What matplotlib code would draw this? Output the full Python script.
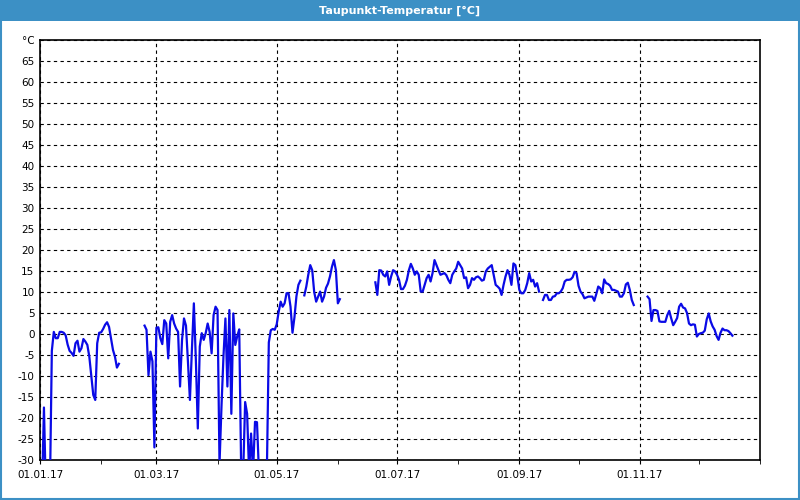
import numpy as np
import pandas as pd
import matplotlib
matplotlib.use("Agg")
import matplotlib.pyplot as plt
import matplotlib.dates as mdates
from matplotlib.patches import Rectangle

# daily dew point values (°C), one list per unbroken stretch of the record
seg_a_start = "2017-01-01"
seg_a = [-38, -38, -17.5, -38, -38, -38, -4, 0.5, -1, -1,
         0.5, 0.5, 0.3, -0.3, -2.5, -4, -4.5, -5.2, -2.2, -1.6,
         -4.2, -3.4, -1.2, -1.8, -2.6, -5.4, -10, -14.5, -15.7, -2.2,
         0.3, 0.4, 1.2, 2.2, 2.8, 1.7, -1, -3.8, -5.4, -8, -7.1]

seg_b_start = "2017-02-23"
seg_b = [2.0, 1.0, -9.8, -4.2, -6.5, -27.0, 1.5, 1.6, -1.0, -2.4,
         3.3, 2.5, -5.8, 2.9, 4.5, 2.5, 1.3, 0.5, -12.5, -1.4,
         3.7, 2.0, -6.6, -15.7, -3.8, 7.3, -6.0, -22.5, -3.0, 0.2,
         -1.4, 0.2, 2.5, 0.5, -4.6, 4.5, 6.5, 5.7, -31.0, -17.3,
         -5.4, 3.7, -12.5, 5.7, -19.0, 4.9, -2.6, -0.5, 1.1, -33,
         -33, -16.2, -19.0, -33, -23.7, -33, -20.9, -21.0, -33, -33,
         -33, -33, -33, -2.0, 0.9, 1.2, 1.0, 2.3, 5.3, 7.7,
         6.5, 7.3, 9.7, 9.7, 6.5, 0.3, 4.0, 9.0, 11.7, 12.7,
         np.nan, 9.2, 11.3, 14.1, 16.4, 15.2, 10.0, 7.7, 8.9, 10.1,
         7.7, 8.9, 11.0, 12.0, 13.7, 16.0, 17.6, 15.2, 7.3, 8.3]

seg_c_start = "2017-06-20"
seg_c = [12.3, 9.3, 15.2, 15.1, 14.1, 13.7, 14.9, 11.7, 13.7, 15.2,
         14.9, 14.1, 12.9, 10.7, 10.7, 11.5, 12.9, 15.2, 16.7, 15.6,
         14.1, 14.9, 14.1, 10.1, 10.1, 11.7, 13.3, 14.1, 12.5, 14.5,
         17.6, 16.4, 15.2, 14.1, 14.3, 14.5, 14.0, 12.9, 12.1, 14.1,
         14.9, 15.6, 17.2, 16.4, 15.6, 13.3, 13.5, 10.9, 11.7, 13.3,
         12.9, 13.5, 13.7, 13.3, 12.7, 12.9, 14.9, 15.6, 16.0, 16.4,
         14.1, 11.7, 11.3, 10.8, 9.3, 11.7, 13.7, 15.2, 14.1, 11.7,
         16.8, 16.4, 13.7, 10.5, 9.7, 9.7, 10.5, 12.1, 14.5, 12.5,
         12.9, 11.3, 12.1, 10.1]

seg_d_start = "2017-09-13"
seg_d = [8.1, 9.3, 9.3, 8.1, 8.1, 8.9, 9.0, 9.7, 9.7, 10.1,
         10.9, 12.5, 12.9, 12.9, 13.0, 13.5, 14.8, 14.5, 11.5, 10.1,
         9.5, 8.5, 8.7, 8.9, 8.9, 8.9, 7.9, 9.5, 11.3, 10.9,
         9.7, 13.0, 12.1, 11.9, 11.5, 10.5, 10.5, 10.3, 10.1, 8.9,
         8.9, 9.7, 11.8, 12.2, 10.5, 8.1, 6.9]

seg_e_start = "2017-11-05"
seg_e = [8.9, 8.3, 3.1, 5.7, 5.7, 5.5, 3.0, 2.9, 2.9, 2.9,
         4.5, 5.5, 3.7, 2.1, 2.9, 3.8, 6.5, 7.2, 6.3, 6.1,
         5.0, 2.5, 2.1, 2.3, 2.2, -0.6, 0.0, 0.2, 0.3, 0.8,
         3.5, 4.9, 3.0, 1.8, 1.0, -0.5, -1.4, 0.3, 1.3, 0.9,
         0.9, 0.7, 0.2, -0.4]

title = "Taupunkt-Temperatur [°C]"
y_ticks = list(range(-30, 70, 5))
x_label_dates = ["2017-01-01", "2017-03-01", "2017-05-01", "2017-07-01", "2017-09-01", "2017-11-01"]

# assemble one daily series for the whole year, NaN where no data
days = pd.date_range("2017-01-01", "2017-12-31", freq="D")
dew = pd.Series(np.nan, index=days)
for start, vals in [(seg_a_start, seg_a), (seg_b_start, seg_b), (seg_c_start, seg_c),
                    (seg_d_start, seg_d), (seg_e_start, seg_e)]:
    idx = pd.date_range(start, periods=len(vals), freq="D")
    dew.loc[idx] = vals

frame_blue = "#3c90c5"

fig = plt.figure(figsize=(8, 5), dpi=100)
fig.patch.set_facecolor("white")

# window frame and title bar
fig.patches.append(Rectangle((0, 1 - 21 / 500), 1, 21 / 500, transform=fig.transFigure,
                             facecolor=frame_blue, edgecolor="none", zorder=0))
fig.patches.append(Rectangle((0.001, 0.002), 0.998, 0.99, transform=fig.transFigure,
                             facecolor="none", edgecolor=frame_blue, linewidth=1.5, zorder=0))
fig.text(0.5, 1 - 10.5 / 500, title, color="white", fontsize=8, fontweight="bold",
         ha="center", va="center")

ax = fig.add_axes([40 / 800, 40 / 500, 720 / 800, 420 / 500])
ax.plot(dew.index, dew.values, color="#0a0ae6", linewidth=1.6, zorder=3)

ax.set_xlim(pd.Timestamp("2017-01-01"), pd.Timestamp("2018-01-01"))
ax.set_ylim(-30, 70)

ax.set_yticks(y_ticks + [70])
ax.set_yticklabels([str(v) for v in y_ticks] + ["°C"])
ax.set_xticks(pd.to_datetime(x_label_dates))
ax.xaxis.set_major_formatter(mdates.DateFormatter("%d.%m.%y"))
ax.xaxis.set_minor_locator(mdates.MonthLocator())

ax.tick_params(axis="y", length=0, pad=4, labelsize=7.5, colors="black")
ax.tick_params(axis="x", which="both", length=3, direction="out", pad=4, labelsize=7.5)

ax.grid(True, which="major", color="black", linestyle=(0, (3, 3)), linewidth=0.8)
ax.set_axisbelow(True)
for s in ax.spines.values():
    s.set_color("black")
    s.set_linewidth(1.2)

fig.savefig("out.png", dpi=100, facecolor="white")
